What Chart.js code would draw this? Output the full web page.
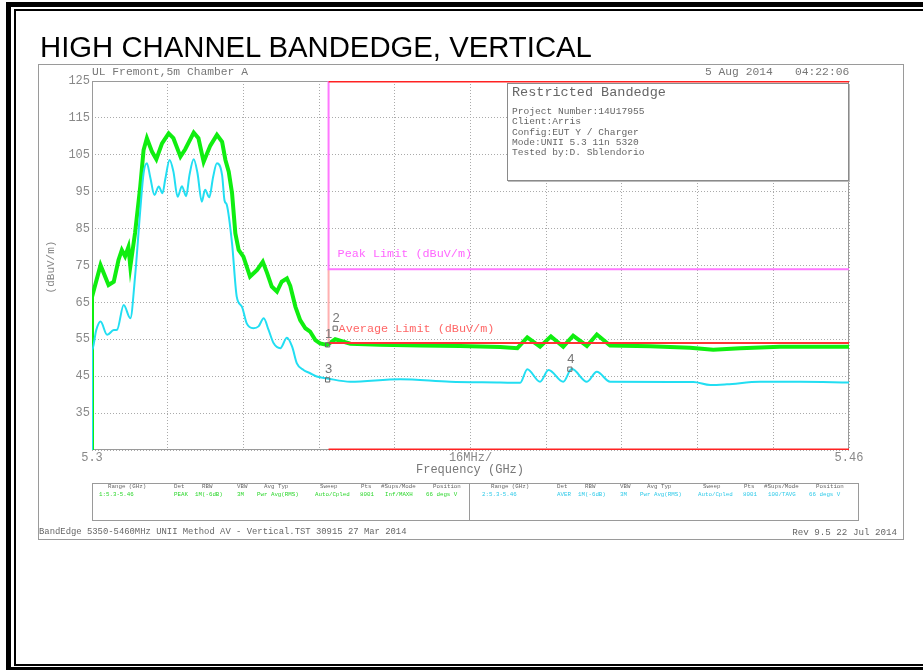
<!DOCTYPE html>
<html><head><meta charset="utf-8">
<script src="https://cdn.jsdelivr.net/npm/chart.js@4.4.0/dist/chart.umd.min.js"></script>
<style>
html,body{margin:0;padding:0;background:#fff;width:923px;height:670px;overflow:hidden;}
#wrap{position:relative;width:923px;height:670px;overflow:hidden;}
canvas{position:absolute;left:0;top:0;}
.t{position:absolute;white-space:pre;font-family:"Liberation Mono","DejaVu Sans Mono",monospace;line-height:1;}
.box{position:absolute;box-sizing:border-box;}
</style></head>
<body><div id="wrap">
<canvas id="c" width="923" height="670"></canvas>
<div class="box" style="left:6px;top:2px;width:1000px;height:670px;border:5px solid #000;"></div>
<div class="box" style="left:14px;top:9px;width:1000px;height:657px;border:2px solid #000;"></div>
<div class="box" style="left:38px;top:64px;width:866px;height:476px;border:1px solid #9a9a9a;"></div>
<div class="t" id="title" style="font-family:'Liberation Sans',Arial,sans-serif;font-size:29.3px;left:40px;top:32px;color:#000;"></div>
<div class="t" id="site" style="font-size:11.3px;left:92px;top:67px;color:#777;"></div>
<div class="t" id="date" style="font-size:11.3px;left:705px;top:67px;color:#777;"></div>
<div class="t" id="time" style="font-size:11.3px;left:795px;top:67px;color:#777;"></div>
<div class="box" id="info" style="left:507px;top:83px;width:342px;height:98px;border:1px solid #8a8a8a;background:#fff;box-shadow:1px 1px 0 #bbb;"></div>
<div class="t" id="ytitle" style="font-size:11px;color:#888;left:51px;top:267px;transform:translate(-50%,-50%) rotate(-90deg);"></div>
<div class="t" id="xtitle" style="font-size:12px;color:#777;left:470px;top:464px;transform:translateX(-50%);"></div>
<div class="box" style="left:92px;top:483px;width:767px;height:38px;border:1px solid #9a9a9a;"></div>
<div class="box" style="left:469px;top:483px;width:1px;height:38px;background:#9a9a9a;"></div>
<div id="table"></div>
<div class="t" id="footL" style="font-size:8.9px;color:#666;left:39px;top:528px;"></div>
<div class="t" id="footR" style="font-size:9.2px;color:#666;right:26px;top:528px;"></div>
</div>
<script>
// ---------------- data ----------------
const peakFreq = [5.3000,5.3000,5.3018,5.3035,5.3046,5.3056,5.3063,5.3070,5.3077,5.3081,5.3091,5.3102,5.3109,5.3116,5.3127,5.3136,5.3148,5.3162,5.3172,5.3187,5.3197,5.3215,5.3225,5.3236,5.3250,5.3264,5.3275,5.3282,5.3289,5.3296,5.3303,5.3310,5.3320,5.3327,5.3334,5.3349,5.3361,5.3370,5.3380,5.3391,5.3401,5.3412,5.3419,5.3430,5.3440,5.3451,5.3461,5.3472,5.3482,5.3497,5.3514,5.3546,5.3609,5.3694,5.3778,5.3863,5.3899,5.3920,5.3947,5.3970,5.3996,5.4017,5.4046,5.4067,5.4095,5.4180,5.4264,5.4313,5.4370,5.4454,5.4539,5.4600];
const peakLevel = [25,66.5,75.1,69.7,70.6,76.5,79.2,77.5,80.0,74.7,83.8,96.4,106.3,109.5,105.8,103.8,108.1,110.8,109.5,104.5,106.5,111.0,109.5,103.1,107.5,110.4,108.5,103.6,100.4,94.6,83.7,79.2,77.4,74.7,72.0,73.8,76.0,73.0,69.3,67.9,70.6,71.5,69.5,63.8,60.2,58.0,57.1,54.8,53.9,53.5,55.0,53.8,53.5,53.3,53.2,52.9,52.6,55.5,53.0,55.8,53.0,56.0,53.2,56.3,53.3,53.1,52.7,52.2,52.6,53.0,53.0,53.0];
const avgFreq = [5.3000,5.3000,5.3009,5.3018,5.3032,5.3046,5.3053,5.3067,5.3081,5.3091,5.3102,5.3109,5.3116,5.3123,5.3132,5.3141,5.3149,5.3155,5.3164,5.3172,5.3181,5.3190,5.3199,5.3206,5.3215,5.3223,5.3232,5.3239,5.3248,5.3256,5.3264,5.3275,5.3280,5.3285,5.3296,5.3306,5.3317,5.3327,5.3341,5.3352,5.3363,5.3373,5.3384,5.3398,5.3412,5.3423,5.3433,5.3447,5.3461,5.3475,5.3497,5.3546,5.3651,5.3757,5.3863,5.3905,5.3920,5.3947,5.3965,5.3996,5.4014,5.4046,5.4067,5.4095,5.4271,5.4307,5.4342,5.4412,5.4497,5.4600];
const avgLevel = [25,52.0,57.5,59.8,56.2,57.5,57.6,64.3,60.7,72.0,90.0,100.0,102.7,99.0,94.1,96.4,94.6,98.5,103.6,100.5,93.6,96.5,93.8,99.5,103.8,100.0,92.3,95.5,93.5,99.0,102.7,99.5,92.7,91.4,81.0,66.5,63.8,59.3,58.0,58.5,60.7,57.6,53.9,52.6,55.4,53.0,48.5,46.7,45.8,44.9,44.4,43.5,44.2,43.5,43.3,43.2,46.9,43.5,46.7,43.5,47.0,43.5,46.2,43.5,43.4,42.6,42.8,43.5,43.5,43.3];
const restrictedBand = [5.35, 5.46];
const peakLimit = 74;
const avgLimit = 54;
const markerNames = ['1','2','3','4'];
const markerFreq = [5.3498, 5.3514, 5.3498, 5.4010];
const markerLevel = [53.5, 58.0, 44.0, 46.9];
const xTicks = [5.3,5.316,5.332,5.348,5.364,5.38,5.396,5.412,5.428,5.444,5.46];
const xTickLabels = ['5.3','','','','','16MHz/','','','','','5.46'];
const yTicks = [25,35,45,55,65,75,85,95,105,115,125];
const yTickLabels = ['','35','45','55','65','75','85','95','105','115','125'];

// ---------------- texts ----------------
document.getElementById('title').textContent = 'HIGH CHANNEL BANDEDGE, VERTICAL';
document.getElementById('site').textContent = 'UL Fremont,5m Chamber A';
document.getElementById('date').textContent = '5 Aug 2014';
document.getElementById('time').textContent = '04:22:06';
document.getElementById('ytitle').textContent = '(dBuV/m)';
document.getElementById('xtitle').textContent = 'Frequency (GHz)';
document.getElementById('footL').textContent = 'BandEdge 5350-5460MHz UNII Method AV - Vertical.TST 30915 27 Mar 2014';
document.getElementById('footR').textContent = 'Rev 9.5 22 Jul 2014';

const infoTitle = 'Restricted Bandedge';
const infoLines = ['Project Number:14U17955','Client:Arris','Config:EUT Y / Charger','Mode:UNII 5.3 11n 5320','Tested by:D. Sblendorio'];
const info = document.getElementById('info');
function addText(parent, txt, left, top, size, color){
  const d = document.createElement('div'); d.className='t'; d.textContent = txt;
  d.style.left = left+'px'; d.style.top = top+'px'; d.style.fontSize = size+'px'; d.style.color = color;
  parent.appendChild(d); return d;
}
addText(info, infoTitle, 4, 2, 13.5, '#666');
infoLines.forEach((s,i)=> addText(info, s, 4, 23 + i*10.3, 9.6, '#666'));

const tableHeaders = ['Range (GHz)','Det','RBW','VBW','Avg Typ','Sweep','Pts','#Sups/Mode','Position'];
const tableRow1 = ['1:5.3-5.46','PEAK','1M(-6dB)','3M','Pwr Avg(RMS)','Auto/Cpled','8001','Inf/MAXH','66 degs V'];
const tableRow2 = ['2:5.3-5.46','AVER','1M(-6dB)','3M','Pwr Avg(RMS)','Auto/Cpled','8001','100/TAVG','66 degs V'];
const hx2 = [491,557,585,620,647,703,744,764,816], vx2 = [482,557,578,620,640,698,743,768,809];
const hx1 = [108,174,202,237,264,320,361,381,433], vx1 = [99,174,195,237,257,315,360,385,426];
const tbl = document.getElementById('table');
tableHeaders.forEach((h,i)=>{ addText(tbl,h,hx1[i],484,5.8,'#666'); addText(tbl,h,hx2[i],484,5.8,'#666'); });
tableRow1.forEach((v,i)=> addText(tbl,v,vx1[i],492,5.8,'#2bd62b'));
tableRow2.forEach((v,i)=> addText(tbl,v,vx2[i],492,5.8,'#2cc9e8'));

// ---------------- chart ----------------
const pts = (xs, ys) => xs.map((x,i)=>({x, y: ys[i]}));
const overlay = {
  id:'overlay',
  beforeDatasetsDraw(chart){
    const {ctx, chartArea:a} = chart;
    ctx.save(); ctx.strokeStyle='#9a9a9a'; ctx.lineWidth=1;
    ctx.strokeRect(Math.round(a.left)+0.5, Math.round(a.top)+0.5, Math.round(a.right-a.left)-1, Math.round(a.bottom-a.top)-1);
    ctx.restore();
  },
  afterDatasetsDraw(chart){
    const {ctx, scales:{x,y}} = chart;
    ctx.save();
    ctx.textBaseline='middle';
    ctx.font='11.8px "Liberation Mono"';
    ctx.fillStyle='#ff66ff';
    ctx.fillText('Peak Limit (dBuV/m)', x.getPixelForValue(restrictedBand[0])+9, y.getPixelForValue(peakLimit)-15);
    ctx.fillStyle='#ff6666';
    ctx.fillText('Average Limit (dBuV/m)', x.getPixelForValue(restrictedBand[0])+10, y.getPixelForValue(avgLimit)-14);
    ctx.fillStyle='#777'; ctx.font='13px "Liberation Sans"'; ctx.textAlign='center';
    markerFreq.forEach((f,i)=> ctx.fillText(markerNames[i], x.getPixelForValue(f)+1, y.getPixelForValue(markerLevel[i])-10));
    ctx.restore();
  }
};

const lineDs = (label, data, color, width, order, extra) => Object.assign({
  type:'line', label, data, borderColor:color, borderWidth:width, pointRadius:0, fill:false, tension:0, order
}, extra||{});

new Chart(document.getElementById('c'), {
  type:'line',
  data:{datasets:[
    {type:'scatter', label:'markers', data: pts(markerFreq, markerLevel), pointStyle:'rect', pointRadius:3, borderColor:'#666', backgroundColor:'rgba(255,255,255,0)', borderWidth:1, order:0},
    lineDs('Restricted top', pts(restrictedBand,[125,125]), '#ff2222', 3, 1),
    lineDs('Restricted bottom', pts(restrictedBand,[25,25]), '#ff2222', 3, 1),
    lineDs('Peak Limit', pts([restrictedBand[0],restrictedBand[0],restrictedBand[1]],[125,peakLimit,peakLimit]), '#ff77ff', 2, 2),
    lineDs('Average Limit', pts([restrictedBand[0],restrictedBand[0],restrictedBand[1]],[peakLimit,avgLimit,avgLimit]), '#ff3333', 2, 2,
      {segment:{borderColor: c => c.p0.parsed.x === c.p1.parsed.x ? '#ffb0b0' : '#ff3333'}}),
    lineDs('Average', pts(avgFreq, avgLevel), '#22def2', 2, 3, {cubicInterpolationMode:'monotone'}),
    lineDs('Peak', pts(peakFreq, peakLevel), '#10ee10', 4, 4)
  ]},
  options:{
    responsive:false, animation:false, devicePixelRatio:1,
    layout:{padding:{left:0, top:81, right:74, bottom:200}},
    plugins:{legend:{display:false}, tooltip:{enabled:false}},
    scales:{
      x:{type:'linear', min:5.3, max:5.46,
        afterBuildTicks: s => { s.ticks = xTicks.map(v=>({value:v})); },
        afterFit: s => { s.height = 20; },
        ticks:{autoSkip:false, maxRotation:0, padding:1, color:'#888', font:{family:'Liberation Mono', size:12},
          callback:(v,i)=> xTickLabels[i]},
        grid:{color:'#aaa', drawTicks:false, lineWidth:1},
        border:{display:false, dash:[1,2]}
      },
      y:{type:'linear', min:25, max:125,
        afterBuildTicks: s => { s.ticks = yTicks.map(v=>({value:v})); },
        afterFit: s => { s.width = 92; },
        ticks:{autoSkip:false, padding:2, color:'#888', font:{family:'Liberation Mono', size:12},
          callback:(v,i)=> yTickLabels[i]},
        grid:{color:'#aaa', drawTicks:false, lineWidth:1},
        border:{display:false, dash:[1,2]}
      }
    }
  },
  plugins:[overlay]
});
</script>
</body></html>
